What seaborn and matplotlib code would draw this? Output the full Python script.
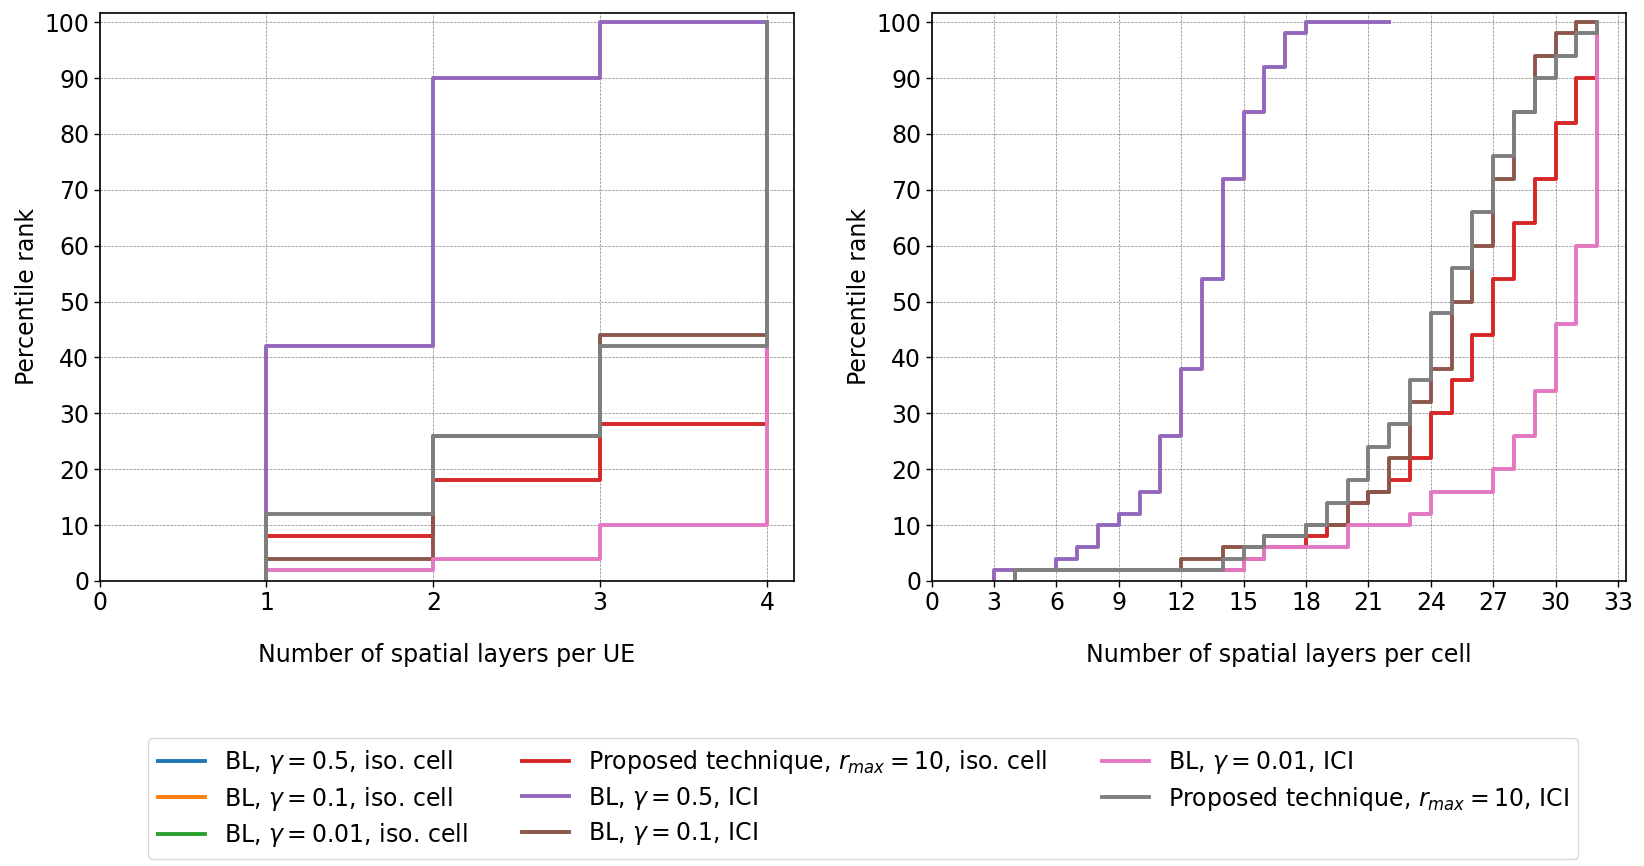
import matplotlib
matplotlib.use("Agg")
import matplotlib.pyplot as plt
from matplotlib.lines import Line2D
import seaborn as sns
import pandas as pd

# ---------------- data ----------------
labels = [
    r"BL, $\gamma = 0.5$, iso. cell",
    r"BL, $\gamma = 0.1$, iso. cell",
    r"BL, $\gamma = 0.01$, iso. cell",
    r"Proposed technique, $r_{max} = 10$, iso. cell",
    r"BL, $\gamma = 0.5$, ICI",
    r"BL, $\gamma = 0.1$, ICI",
    r"BL, $\gamma = 0.01$, ICI",
    r"Proposed technique, $r_{max} = 10$, ICI",
]
colors = sns.color_palette("tab10", 8)

# Left panel: spatial layers per UE (percentile rank at each layer count)
ue_layers = [1, 2, 3, 4]
ue_proposed_iso = [8, 18, 28, 100]
ue_bl05_ici = [42, 90, 100, 100]
ue_bl01_ici = [4, 26, 44, 100]
ue_bl001_ici = [2, 4, 10, 100]
ue_proposed_ici = [12, 26, 42, 100]

# Right panel: spatial layers per cell
cell_proposed_iso_x = [4, 15, 16, 18, 19, 20, 21, 22, 23, 24, 25, 26, 27, 28, 29, 30, 31, 32]
cell_proposed_iso_y = [2, 4, 6, 8, 10, 14, 16, 18, 22, 30, 36, 44, 54, 64, 72, 82, 90, 100]
cell_bl05_ici_x = [3, 6, 7, 8, 9, 10, 11, 12, 13, 14, 15, 16, 17, 18, 22]
cell_bl05_ici_y = [2, 4, 6, 10, 12, 16, 26, 38, 54, 72, 84, 92, 98, 100, 100]
cell_bl01_ici_x = [4, 12, 14, 16, 18, 20, 21, 22, 23, 24, 25, 26, 27, 28, 29, 30, 31, 32]
cell_bl01_ici_y = [2, 4, 6, 8, 10, 14, 16, 22, 32, 38, 50, 60, 72, 84, 94, 98, 100, 100]
cell_bl001_ici_x = [4, 15, 16, 20, 23, 24, 27, 28, 29, 30, 31, 32]
cell_bl001_ici_y = [2, 4, 6, 10, 12, 16, 20, 26, 34, 46, 60, 100]
cell_proposed_ici_x = [4, 14, 15, 16, 18, 19, 20, 21, 22, 23, 24, 25, 26, 27, 28, 29, 30, 31, 32]
cell_proposed_ici_y = [2, 4, 6, 8, 10, 14, 18, 24, 28, 36, 48, 56, 66, 76, 84, 90, 94, 98, 100]

ue_series = {
    3: (ue_layers, ue_proposed_iso),
    4: (ue_layers, ue_bl05_ici),
    5: (ue_layers, ue_bl01_ici),
    6: (ue_layers, ue_bl001_ici),
    7: (ue_layers, ue_proposed_ici),
}
cell_series = {
    3: (cell_proposed_iso_x, cell_proposed_iso_y),
    4: (cell_bl05_ici_x, cell_bl05_ici_y),
    5: (cell_bl01_ici_x, cell_bl01_ici_y),
    6: (cell_bl001_ici_x, cell_bl001_ici_y),
    7: (cell_proposed_ici_x, cell_proposed_ici_y),
}

# ---------------- figure ----------------
plt.rcParams["font.family"] = ["DejaVu Sans"]
fig = plt.figure(figsize=(16.44, 8.66), dpi=100)
ax1 = fig.add_axes([0.0606, 0.3292, 0.4222, 0.6562])
ax2 = fig.add_axes([0.5667, 0.3292, 0.4221, 0.6562])

LW = 2.8
FS = 17


def draw(ax, series):
    for idx in sorted(series):
        xs, ys = series[idx]
        df = pd.DataFrame({"x": [xs[0]] + list(xs), "y": [0] + list(ys)})
        sns.lineplot(data=df, x="x", y="y", ax=ax, estimator=None, sort=False,
                     drawstyle="steps-post", color=colors[idx], linewidth=LW,
                     legend=False)


draw(ax1, ue_series)
draw(ax2, cell_series)

for ax in (ax1, ax2):
    ax.set_ylim(0, 101.7)
    ax.set_yticks(range(0, 101, 10))
    ax.grid(True, color="0.3", linestyle="--", linewidth=0.5, alpha=0.7)
    ax.set_axisbelow(True)
    ax.tick_params(labelsize=FS, width=1.0, length=4)
    ax.set_ylabel("Percentile rank", fontsize=FS)
    for s in ax.spines.values():
        s.set_linewidth(1.2)

ax1.set_xlim(0, 4.16)
ax1.set_xticks(range(0, 5))
ax1.set_xlabel("Number of spatial layers per UE", fontsize=FS, labelpad=20)

ax2.set_xlim(0, 33.36)
ax2.set_xticks(range(0, 34, 3))
ax2.set_xlabel("Number of spatial layers per cell", fontsize=FS, labelpad=20)

handles = [Line2D([], [], color=colors[i], linewidth=LW) for i in range(8)]
fig.legend(handles, labels, ncol=3, loc="upper center",
           bbox_to_anchor=(0.525, 0.161), fontsize=FS, frameon=True,
           handlelength=2.0, columnspacing=2.3, labelspacing=0.37)

fig.savefig("out.png", dpi=100)
